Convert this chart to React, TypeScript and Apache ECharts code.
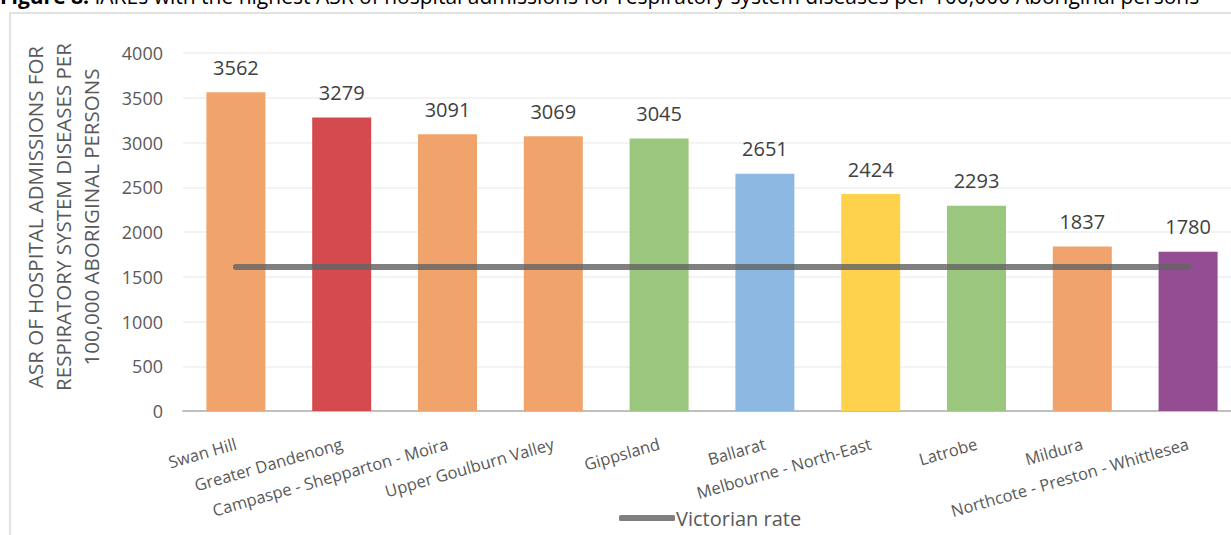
import React, { useEffect, useRef } from "react";
import * as echarts from "echarts";

// IARE areas and their age-standardised rates
const categories = [
  "Swan Hill",
  "Greater Dandenong",
  "Campaspe - Shepparton - Moira",
  "Upper Goulburn Valley",
  "Gippsland",
  "Ballarat",
  "Melbourne - North-East",
  "Latrobe",
  "Mildura",
  "Northcote - Preston - Whittlesea",
];
const rates = [3562, 3279, 3091, 3069, 3045, 2651, 2424, 2293, 1837, 1780];
const barColors = [
  "#F0A46C",
  "#D44A4E",
  "#F0A46C",
  "#F0A46C",
  "#9BC67D",
  "#8CB8E2",
  "#FFD24E",
  "#9BC67D",
  "#F0A46C",
  "#944C92",
];
const victorianRate = 1610;
const yTicks = { min: 0, max: 4000, interval: 500 };

const FONT = "'Open Sans', 'Liberation Sans', sans-serif";

export default function App() {
  const ref = useRef<HTMLDivElement>(null);

  useEffect(() => {
    if (!ref.current) return;
    const chart = echarts.init(ref.current, null, { renderer: "svg" });
    chart.setOption({
      animation: false,
      textStyle: { fontFamily: FONT },
      graphic: [
        {
          type: "rect",
          shape: { x: 10, y: 13, width: 1400, height: 700 },
          style: { fill: "none", stroke: "#D9D9D9", lineWidth: 1.5 },
          silent: true,
          z: -10,
        },
        {
          type: "text",
          x: 0,
          y: -4,
          style: {
            text: "{b|Figure 8:} IAREs with the highest ASR of hospital admissions for respiratory system diseases per 100,000 Aboriginal persons",
            fontFamily: FONT,
            fontSize: 21,
            fill: "#000",
            verticalAlign: "middle",
            rich: { b: { fontWeight: "bold", fontSize: 21, fontFamily: FONT, fill: "#000" } },
          },
          silent: true,
        },
      ],
      legend: {
        data: [{ name: "Victorian rate", icon: "roundRect" }],
        left: 614,
        top: 503,
        itemWidth: 56,
        itemHeight: 6,
        itemGap: 4,
        textStyle: { fontSize: 20, color: "#595959", fontFamily: FONT, padding: [0, 0, 0, -4] },
        itemStyle: { color: "#7F7F7F" },
      },
      grid: {
        left: 183,
        right: -10,
        top: 53,
        bottom: 124,
        containLabel: false,
        outerBoundsMode: "none",
      },
      xAxis: {
        type: "category",
        data: categories,
        axisTick: { show: false },
        axisLine: { lineStyle: { color: "#BFBFBF", width: 2 } },
        axisLabel: {
          interval: 0,
          rotate: 16,
          margin: 32,
          fontSize: 16.5,
          color: "#595959",
          fontFamily: FONT,
        },
      },
      yAxis: {
        type: "value",
        min: yTicks.min,
        max: yTicks.max,
        interval: yTicks.interval,
        name: "ASR OF HOSPITAL ADMISSIONS FOR\nRESPIRATORY SYSTEM DISEASES PER\n100,000 ABORIGINAL PERSONS",
        nameLocation: "middle",
        nameRotate: 90,
        nameGap: 78,
        nameTextStyle: {
          fontSize: 20.5,
          lineHeight: 28,
          color: "#595959",
          fontFamily: FONT,
          align: "center",
          padding: [0, 0, 0, 30],
        },
        axisLine: { show: false },
        axisTick: { show: false },
        axisLabel: {
          fontSize: 18,
          color: "#595959",
          margin: 20,
          fontFamily: FONT,
          formatter: (v: number) => String(v),
        },
        splitLine: { lineStyle: { color: "#EFEFEF", width: 1.5 } },
      },
      series: [
        {
          type: "bar",
          name: "ASR",
          barWidth: 59,
          data: rates.map((v, i) => ({ value: v, itemStyle: { color: barColors[i] } })),
          label: {
            show: true,
            position: "top",
            distance: 15,
            fontSize: 20,
            color: "#404040",
            fontFamily: FONT,
          },
          z: 2,
        },
        {
          type: "line",
          name: "Victorian rate",
          data: categories.map(() => victorianRate),
          symbol: "none",
          lineStyle: { color: "#646464", opacity: 0.82, width: 6, cap: "round" },
          itemStyle: { color: "#7F7F7F" },
          z: 3,
        },
      ],
    });
    return () => chart.dispose();
  }, []);

  return (
    <div
      ref={ref}
      style={{ position: "fixed", left: 0, top: 0, width: 1231, height: 535, background: "#fff" }}
    />
  );
}
